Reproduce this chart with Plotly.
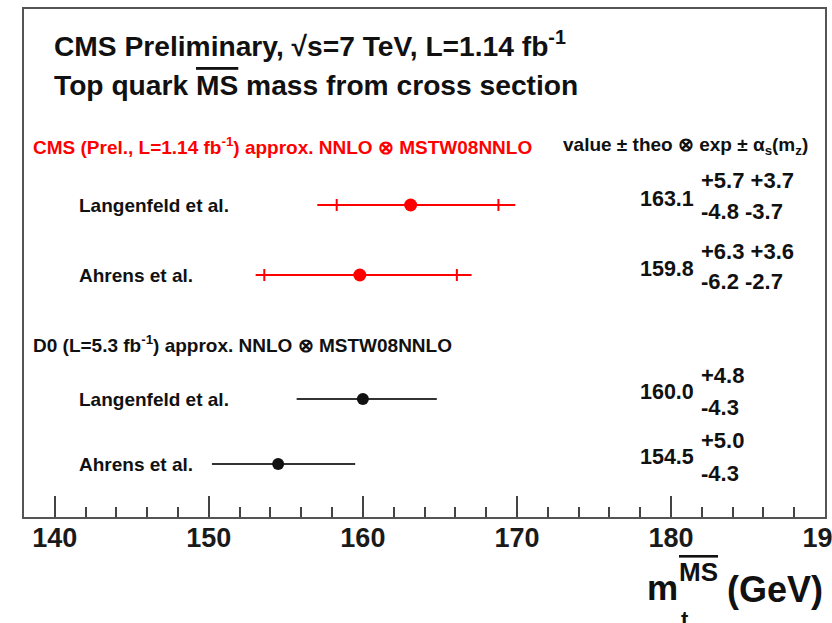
import plotly.graph_objects as go
import math

# ---------------- data ----------------
cms_labels = ["Langenfeld et al.", "Ahrens et al."]
cms_values = [163.1, 159.8]
cms_theo_up = [5.7, 6.3]
cms_theo_dn = [4.8, 6.2]
cms_exp_up = [3.7, 3.6]
cms_exp_dn = [3.7, 2.7]

d0_labels = ["Langenfeld et al.", "Ahrens et al."]
d0_values = [160.0, 154.5]
d0_up = [4.8, 5.0]
d0_dn = [4.3, 4.3]

x_ticks = [140, 150, 160, 170, 180, 190]

# ---------------- layout helpers ----------------
W, H = 832, 623
L, R, T, B = 24, 825, 9, 517          # frame in pixels
YMAX = 10.0


def py2y(p):            # pixel row -> y data value
    return (B - p) / (B - T) * YMAX


def pxp(x):             # pixel -> paper x
    return (x - L) / (R - L)


def pyp(y):             # pixel -> paper y
    return (B - y) / (B - T)


cms_rows = [py2y(205), py2y(275)]
d0_rows = [py2y(399), py2y(464)]

cms_tot_up = [math.hypot(a, b) for a, b in zip(cms_theo_up, cms_exp_up)]
cms_tot_dn = [math.hypot(a, b) for a, b in zip(cms_theo_dn, cms_exp_dn)]

RED = "#ff0000"
BLK = "#111111"

fig = go.Figure()

# CMS outer (total) bars + markers
fig.add_trace(go.Scatter(
    x=cms_values, y=cms_rows, mode="markers",
    marker=dict(color=RED, size=13),
    error_x=dict(type="data", symmetric=False, array=cms_tot_up, arrayminus=cms_tot_dn,
                 color=RED, thickness=2, width=0),
    showlegend=False, hoverinfo="x"))
# CMS inner (theory) ticks
fig.add_trace(go.Scatter(
    x=cms_values, y=cms_rows, mode="markers",
    marker=dict(color=RED, size=13, opacity=0),
    error_x=dict(type="data", symmetric=False, array=cms_theo_up, arrayminus=cms_theo_dn,
                 color=RED, thickness=2, width=6),
    showlegend=False, hoverinfo="skip"))
# D0
fig.add_trace(go.Scatter(
    x=d0_values, y=d0_rows, mode="markers",
    marker=dict(color=BLK, size=12),
    error_x=dict(type="data", symmetric=False, array=d0_up, arrayminus=d0_dn,
                 color="#333333", thickness=2, width=0),
    showlegend=False, hoverinfo="x"))

FONT = "Liberation Sans, Arial, Helvetica, sans-serif"
ann = []


def txt(s, x, y, size, color=BLK, xanchor="left"):
    ann.append(dict(text=s, x=pxp(x), y=pyp(y), xref="paper", yref="paper",
                    xanchor=xanchor, yanchor="middle", showarrow=False,
                    font=dict(family=FONT, size=size, color=color)))


OVL = "<span style='text-decoration:overline'>"

txt("<b>CMS Preliminary, √s=7 TeV, L=1.14 fb<sup>-1</sup></b>", 52, 44, 28.2)
txt("<b>Top quark " + OVL + "MS</span> mass from cross section</b>", 52, 85, 28.2)

txt("<b>CMS (Prel., L=1.14 fb<sup>-1</sup>) approx. NNLO ⊗ MSTW08NNLO</b>", 31, 146, 19, RED)
txt("<b>value ± theo ⊗ exp ± α<sub>s</sub>(m<sub>z</sub>)</b>", 561, 146, 19)
txt("<b>D0 (L=5.3 fb<sup>-1</sup>) approx. NNLO ⊗ MSTW08NNLO</b>", 31, 344, 19)

for lab, r in zip(cms_labels, [205, 275]):
    txt("<b>" + lab + "</b>", 77, r, 19)
for lab, r in zip(d0_labels, [399, 464]):
    txt("<b>" + lab + "</b>", 77, r, 19)

# value annotations
cms_pix = [199, 269]
for v, tu, td, eu, ed, p in zip(cms_values, cms_theo_up, cms_theo_dn, cms_exp_up, cms_exp_dn, cms_pix):
    txt("<b>%.1f</b>" % v, 696, p, 21.5, xanchor="right")
    txt("<b>+%.1f +%.1f</b>" % (tu, eu), 699, p - 18, 22)
    txt("<b>-%.1f -%.1f</b>" % (td, ed), 699, p + 13, 22)
d0_pix = [392, 457]
for v, u, d, p in zip(d0_values, d0_up, d0_dn, d0_pix):
    txt("<b>%.1f</b>" % v, 696, p, 21.5, xanchor="right")
    txt("<b>+%.1f</b>" % u, 699, p - 17, 22)
    txt("<b>-%.1f</b>" % d, 699, p + 16, 22)

# axis title pieces
txt("<b>m</b>", 645, 587, 35)
txt("<b>" + OVL + "MS</span></b>", 677, 572, 26)
txt("<b>t</b>", 679, 619, 22)
txt("<b>(GeV)</b>", 725, 589, 36)

fig.update_layout(
    width=W, height=H,
    margin=dict(l=L, r=W - R, t=T, b=H - B, pad=0, autoexpand=False),
    paper_bgcolor="white", plot_bgcolor="white",
    annotations=ann,
    font=dict(family=FONT),
    xaxis=dict(range=[138, 190], tickvals=x_ticks, ticks="inside", ticklen=21,
               tickwidth=1.5, tickcolor="#444", showgrid=False, zeroline=False,
               showline=True, linecolor="#555", linewidth=2, mirror=True,
               ticklabeloverflow="allow", automargin=False, ticklabelstandoff=-4,
               tickfont=dict(family=FONT, size=27, color="#1a1a1a", weight="bold"),
               minor=dict(ticks="inside", ticklen=10, dtick=2, tickwidth=1.5,
                          tickcolor="#444", showgrid=False),
               fixedrange=True),
    yaxis=dict(range=[0, YMAX], showticklabels=False, ticks="", showgrid=False,
               zeroline=False, showline=True, linecolor="#555", linewidth=2,
               mirror=True, fixedrange=True, automargin=False),
)

fig.write_html("out.html", config={"displayModeBar": False})
